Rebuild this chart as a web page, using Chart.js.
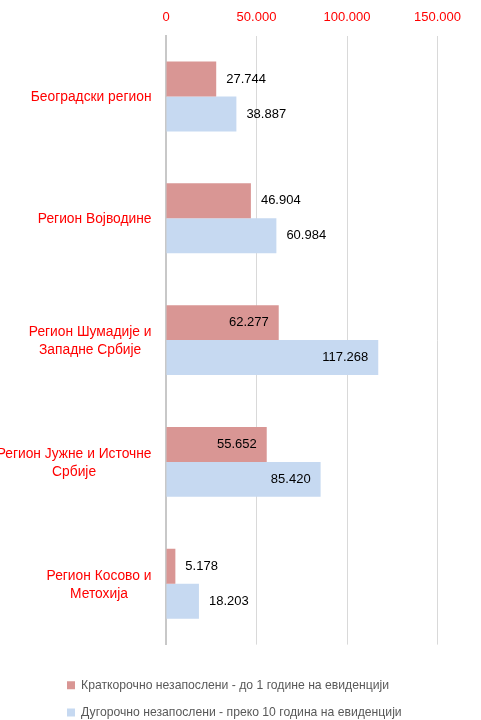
<!DOCTYPE html>
<html><head><meta charset="utf-8">
<script src="https://cdn.jsdelivr.net/npm/chart.js@4/dist/chart.umd.min.js"></script>
<style>html,body{margin:0;padding:0;background:#fff}</style>
</head><body>
<canvas id="c" width="481" height="720"></canvas>
<script>
const categories = [
  ["Београдски регион"],
  ["Регион Војводине"],
  ["Регион Шумадије и", "Западне Србије"],
  ["Регион Јужне и Источне", "Србије"],
  ["Регион Косово и", "Метохија"]
];
const seriesNames = [
  "Краткорочно незапослени - до 1 године на евиденцији",
  "Дугорочно незапослени - преко 10 година на евиденцији"
];
const shortTerm = [27744, 46904, 62277, 55652, 5178];
const longTerm = [38887, 60984, 117268, 85420, 18203];
const xTicks = [0, 50000, 100000, 150000];

const FONT = "'Liberation Sans', Arial, sans-serif";
const fmt = n => String(n).replace(/\B(?=(\d{3})+(?!\d))/g, '.');

const yLabelPlugin = {
  id: 'yLabels',
  afterDraw(chart) {
    const s = chart.scales.y, ctx = chart.ctx;
    ctx.save();
    ctx.font = '13.8px ' + FONT;
    ctx.fillStyle = '#FF0000';
    ctx.textAlign = 'center';
    ctx.textBaseline = 'middle';
    const right = s.right - 14.5, lh = 18;
    categories.forEach((lines, i) => {
      const y = s.getPixelForTick(i) + 1;
      const w = Math.max(...lines.map(t => ctx.measureText(t).width));
      const cx = right - w / 2;
      const y0 = y - (lines.length - 1) * lh / 2;
      lines.forEach((t, k) => ctx.fillText(t, cx, y0 + k * lh));
    });
    ctx.restore();
  }
};

const valueLabelPlugin = {
  id: 'valueLabels',
  afterDatasetsDraw(chart, args, opts) {
    const ctx = chart.ctx;
    ctx.save();
    ctx.font = '13px ' + FONT;
    ctx.fillStyle = '#000000';
    ctx.textBaseline = 'middle';
    chart.data.datasets.forEach((ds, di) => {
      chart.getDatasetMeta(di).data.forEach((bar, i) => {
        const inside = opts.insideCategories.includes(i);
        ctx.textAlign = inside ? 'right' : 'left';
        ctx.fillText(fmt(ds.data[i]), inside ? bar.x - 10 : bar.x + 10, bar.y);
      });
    });
    ctx.restore();
  }
};

const legendShiftPlugin = {
  id: 'legendShift',
  afterLayout(chart) {
    const lg = chart.legend;
    lg.left = 52;
    lg.top += 19.5;
    lg.bottom += 19.5;
  }
};

new Chart(document.getElementById('c'), {
  type: 'bar',
  data: {
    labels: categories,
    datasets: [
      { label: seriesNames[0], data: shortTerm, backgroundColor: '#D99694', borderWidth: 0 },
      { label: seriesNames[1], data: longTerm, backgroundColor: '#C6D9F1', borderWidth: 0 }
    ]
  },
  options: {
    indexAxis: 'y',
    responsive: false,
    animation: false,
    devicePixelRatio: 1,
    layout: { padding: { top: 0, right: 43.5, bottom: 11, left: 0 } },
    datasets: { bar: { categoryPercentage: 0.574, barPercentage: 1 } },
    scales: {
      x: {
        position: 'top',
        min: 0, max: 150000,
        afterBuildTicks: s => { s.ticks = xTicks.map(v => ({ value: v })); },
        ticks: { color: '#FF0000', font: { size: 13, family: FONT }, padding: 10, callback: v => fmt(v), maxRotation: 0 },
        grid: { color: '#D9D9D9', lineWidth: 1, drawTicks: false },
        border: { display: false }
      },
      y: {
        afterFit: s => { s.width = 166; },
        ticks: { color: 'rgba(0,0,0,0)', font: { size: 13, family: FONT } },
        grid: { display: false, drawTicks: false },
        border: { display: true, color: '#C8C8C8', width: 2 }
      }
    },
    plugins: {
      tooltip: { enabled: false },
      valueLabels: { insideCategories: [2, 3] },
      legend: {
        position: 'bottom',
        align: 'start',
        labels: { boxWidth: 8, boxHeight: 8, padding: 15, color: '#595959', font: { size: 12.2, family: FONT } }
      }
    }
  },
  plugins: [yLabelPlugin, valueLabelPlugin, legendShiftPlugin]
});
</script>
</body></html>
